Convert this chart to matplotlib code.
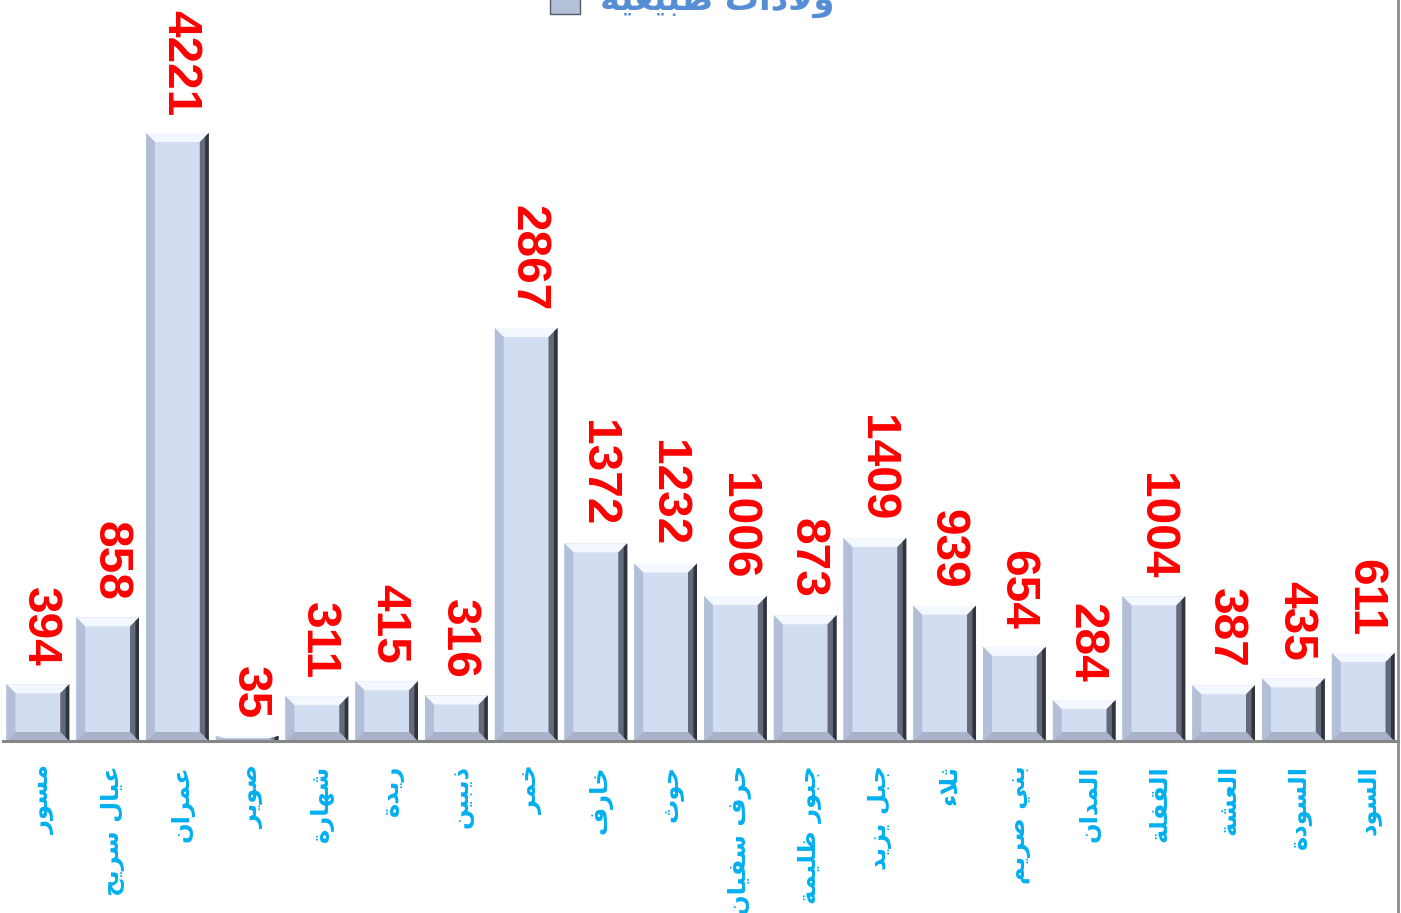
"""Bar chart of births per district (Arabic labels), bevelled bars."""

import matplotlib

matplotlib.use("Agg")
import matplotlib.pyplot as plt
from matplotlib.patches import Polygon, Rectangle

# ---- data (display order, left to right) ----
districts = [
    "مسور", "عيال سريح", "عمران", "صوير", "شهارة", "ريدة", "ذيبين", "خمر",
    "خارف", "حوث", "حرف سفيان", "جبور ظليمة", "جبل يزيد", "ثلاء", "بني صريم",
    "المدان", "القفلة", "العشة", "السودة", "السود",
]
births = [394, 858, 4221, 35, 311, 415, 316, 2867, 1372, 1232, 1006, 873,
          1409, 939, 654, 284, 1004, 387, 435, 611]
series_name = "ولادات طبيعية"

# ---- minimal Arabic shaping (matplotlib has no RTL / joining support) ----
FORMS = {
    "ء": (0xFE80, 1), "ا": (0xFE8D, 2), "ب": (0xFE8F, 4), "ة": (0xFE93, 2),
    "ت": (0xFE95, 4), "ث": (0xFE99, 4), "ج": (0xFE9D, 4), "ح": (0xFEA1, 4),
    "خ": (0xFEA5, 4), "د": (0xFEA9, 2), "ذ": (0xFEAB, 2), "ر": (0xFEAD, 2),
    "ز": (0xFEAF, 2), "س": (0xFEB1, 4), "ش": (0xFEB5, 4), "ص": (0xFEB9, 4),
    "ض": (0xFEBD, 4), "ط": (0xFEC1, 4), "ظ": (0xFEC5, 4), "ع": (0xFEC9, 4),
    "غ": (0xFECD, 4), "ف": (0xFED1, 4), "ق": (0xFED5, 4), "ك": (0xFED9, 4),
    "ل": (0xFEDD, 4), "م": (0xFEE1, 4), "ن": (0xFEE5, 4), "ه": (0xFEE9, 4),
    "و": (0xFEED, 2), "ي": (0xFEF1, 4),
}


def shape_word(word):
    out = []
    prev_joins = False
    i = 0
    while i < len(word):
        c = word[i]
        if c == "ل" and i + 1 < len(word) and word[i + 1] == "ا":
            out.append(chr(0xFEFC if prev_joins else 0xFEFB))
            prev_joins = False
            i += 2
            continue
        base, n = FORMS.get(c, (ord(c), 0))
        nxt = word[i + 1] if i + 1 < len(word) else None
        next_joins = n == 4 and nxt is not None and FORMS.get(nxt, (0, 0))[1] >= 2
        if n == 0:
            g = c
        elif n == 1:
            g = chr(base)
        elif n == 2:
            g = chr(base + 1) if prev_joins else chr(base)
        else:
            if prev_joins and next_joins:
                g = chr(base + 3)
            elif prev_joins:
                g = chr(base + 1)
            elif next_joins:
                g = chr(base + 2)
            else:
                g = chr(base)
        out.append(g)
        prev_joins = n == 4
        i += 1
    return "".join(out)


def arabic(text):
    shaped = " ".join(shape_word(w) for w in text.split(" "))
    return shaped[::-1]


# ---- figure ----
W, H = 1401, 913
fig = plt.figure(figsize=(W / 100, H / 100), dpi=100)
ax_left, ax_right, ax_base = 3, 1398, 741
ymax = ax_base / 0.14404
ax = fig.add_axes([ax_left / W, (H - ax_base) / H, (ax_right - ax_left) / W, ax_base / H])
ax.set_xlim(-0.5, len(births) - 0.5)
ax.set_ylim(0, ymax)
ax.axis("off")

px_x = (ax_right - ax_left) / len(births)  # pixels per x unit
px_y = ax_base / ymax  # pixels per y unit

face = "#d3ddf1"
top_c, left_c, bot_c, right_c, edge_c = "#f3f8fe", "#b3bfd9", "#a9b2c9", "#646a7a", "#30343f"

bars = ax.bar(range(len(births)), births, width=0.9, color=face, linewidth=0, zorder=2)
for b in bars:
    x0, x1 = b.get_x(), b.get_x() + b.get_width()
    h = b.get_height()
    bx = 9 / px_x
    by = min(9 / px_y, h / 2)
    polys = [
        ([(x0, h), (x1, h), (x1 - bx, h - by), (x0 + bx, h - by)], top_c),
        ([(x0, h), (x0 + bx, h - by), (x0 + bx, by), (x0, 0)], left_c),
        ([(x0, 0), (x1, 0), (x1 - bx, by), (x0 + bx, by)], bot_c),
        ([(x1, h), (x1, 0), (x1 - bx, by), (x1 - bx, h - by)], right_c),
        ([(x1, h), (x1, 0), (x1 - bx * 0.4, by * 0.4), (x1 - bx * 0.4, h - by * 0.4)], edge_c),
    ]
    for pts, col in polys:
        ax.add_patch(Polygon(pts, closed=True, facecolor=col, edgecolor="none", zorder=3))

# axis line
ax.plot([-0.5, len(births) - 0.5], [0, 0], color="#868686", lw=2.2, zorder=4, clip_on=False)

# value labels
for i, v in enumerate(births):
    ax.annotate(str(v), xy=(i, v), xytext=(2, 17), textcoords="offset pixels",
                rotation=270, ha="center", va="bottom", color="#ff0000",
                fontsize=34.5, fontweight="bold", family="Liberation Sans", zorder=5)

# category labels
for i, name in enumerate(districts):
    ax.annotate(arabic(name), xy=(i, 0), xytext=(5, -24), textcoords="offset pixels",
                rotation=90, ha="center", va="top", color="#00b0f0",
                fontsize=17.5, fontweight="bold", family="DejaVu Sans",
                annotation_clip=False)

# right border of chart area
fig.add_artist(plt.Line2D([1398 / W, 1398 / W], [0, 1], color="#8c8c8c", lw=2))

# legend (cut at top edge like the reference)
fig.add_artist(Rectangle((550 / W, 1 - 14 / H), 30 / W, 30 / H, transform=fig.transFigure,
                         facecolor="#b4bfd8", edgecolor="#555a66", lw=1))
fig.text(600 / W, 1 - 10 / H, arabic(series_name), ha="left", va="baseline",
         color="#558ed5", fontsize=24.5, fontweight="bold", family="DejaVu Sans")

fig.savefig("out.png", dpi=100)
